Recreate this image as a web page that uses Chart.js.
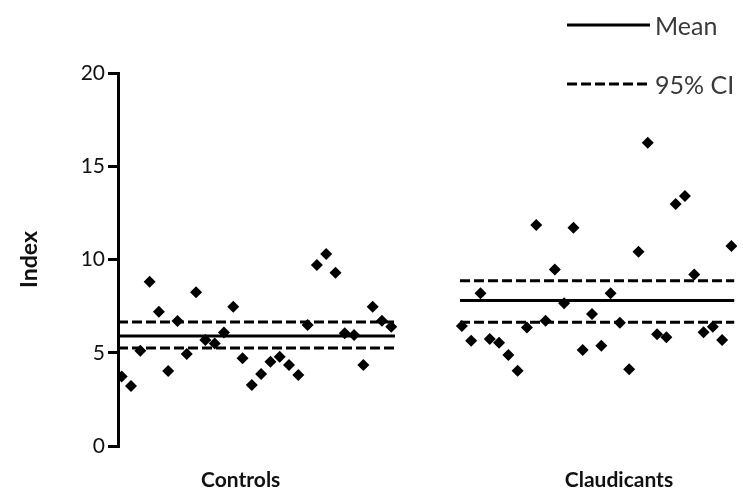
<!DOCTYPE html>
<html>
<head>
<meta charset="utf-8">
<script src="https://cdn.jsdelivr.net/npm/chart.js@4.4.0/dist/chart.umd.min.js"></script>
<style>
html,body{margin:0;padding:0;background:#fff;}
#wrap{width:743px;height:495px;}
</style>
</head>
<body>
<div id="wrap"><canvas id="c" width="743" height="495"></canvas></div>
<script>
const categories = ["Controls", "Claudicants"];
const controls = [3.72, 3.22, 5.11, 8.81, 7.2, 4.02, 6.70, 4.93, 8.24, 5.68, 5.5, 6.08, 7.47, 4.70, 3.27, 3.86, 4.52, 4.79, 4.34, 3.81, 6.49, 9.71, 10.3, 9.29, 6.04, 5.95, 4.34, 7.47, 6.72, 6.4];
const claudicants = [6.43, 5.65, 8.19, 5.74, 5.54, 4.88, 4.04, 6.36, 11.85, 6.72, 9.47, 7.65, 11.7, 5.15, 7.08, 5.38, 8.19, 6.61, 4.11, 10.42, 16.26, 5.99, 5.83, 12.98, 13.4, 9.2, 6.1, 6.4, 5.68, 10.72];
const means = [5.9, 7.8];
const ciLow = [5.25, 6.63];
const ciHigh = [6.65, 8.86];
const yTicks = [0, 5, 10, 15, 20];
const legendLabels = ["Mean", "95% CI"];

// layout (not data)
const groupStart = [0.4, 37.0];
const lineSpan = [[0, 29.8], [36.8, 66.3]];
const labelPos = [13.2, 53.9];

function pts(vals, start) { return vals.map((v, i) => ({ x: start + i, y: v })); }
function hline(g, y) { return [{ x: lineSpan[g][0], y: y }, { x: lineSpan[g][1], y: y }]; }

const FONT = "Lato, 'Liberation Sans', sans-serif";
const lineStyle = { type: 'scatter', showLine: true, pointRadius: 0, borderColor: '#000', borderWidth: 3, fill: false };
const datasets = [];
[0, 1].forEach(g => {
  datasets.push(Object.assign({}, lineStyle, { label: legendLabels[0], data: hline(g, means[g]) }));
  datasets.push(Object.assign({}, lineStyle, { label: legendLabels[1], borderDash: [10, 4], data: hline(g, ciLow[g]) }));
  datasets.push(Object.assign({}, lineStyle, { label: legendLabels[1], borderDash: [10, 4], data: hline(g, ciHigh[g]) }));
});
[controls, claudicants].forEach((vals, g) => {
  datasets.push({ label: categories[g], data: pts(vals, groupStart[g]), pointStyle: 'rectRot', pointRadius: 6, pointBackgroundColor: '#000', pointBorderColor: '#000', pointBorderWidth: 0, showLine: false });
});

const legendPlugin = {
  id: 'customLegend',
  afterDraw(chart) {
    const ctx = chart.ctx;
    ctx.save();
    const items = [{ y: 25, dash: [], text: legendLabels[0] }, { y: 84, dash: [10, 4], text: legendLabels[1] }];
    items.forEach(it => {
      ctx.beginPath();
      ctx.setLineDash(it.dash);
      ctx.lineWidth = 3;
      ctx.strokeStyle = '#000';
      ctx.moveTo(567, it.y);
      ctx.lineTo(650, it.y);
      ctx.stroke();
      ctx.setLineDash([]);
      ctx.fillStyle = '#3a3a3a';
      ctx.font = "25px " + FONT;
      ctx.textBaseline = 'middle';
      ctx.fillText(it.text, 655, it.y + 2);
    });
    ctx.restore();
  }
};

new Chart(document.getElementById('c'), {
  type: 'scatter',
  data: { datasets: datasets },
  plugins: [legendPlugin],
  options: {
    responsive: false,
    animation: false,
    layout: { padding: { top: 73, right: 3, left: 16, bottom: 0 } },
    plugins: { legend: { display: false }, tooltip: { enabled: false } },
    scales: {
      x: {
        type: 'linear', min: 0, max: 66.6,
        afterBuildTicks: s => { s.ticks = labelPos.map(v => ({ value: v })); },
        afterFit: s => { s.height = 49; },
        ticks: { autoSkip: false, maxRotation: 0, padding: 22, color: '#111', font: { family: FONT, size: 21, weight: 'bold' }, callback: (v, i) => categories[i] },
        grid: { display: false, drawTicks: false },
        border: { display: false }
      },
      y: {
        min: 0, max: 20,
        afterBuildTicks: s => { s.ticks = yTicks.map(v => ({ value: v })); },
        afterFit: s => { s.width = 102; },
        ticks: { padding: 3, color: '#111', font: { family: FONT, size: 21 } },
        title: { display: true, text: 'Index', color: '#111', font: { family: FONT, size: 23, weight: 'bold' }, padding: { top: 0, bottom: 30 } },
        grid: { drawOnChartArea: false, drawTicks: true, tickLength: 10, color: '#000', lineWidth: 3 },
        border: { display: true, color: '#000', width: 3 }
      }
    }
  }
});
</script>
</body>
</html>
